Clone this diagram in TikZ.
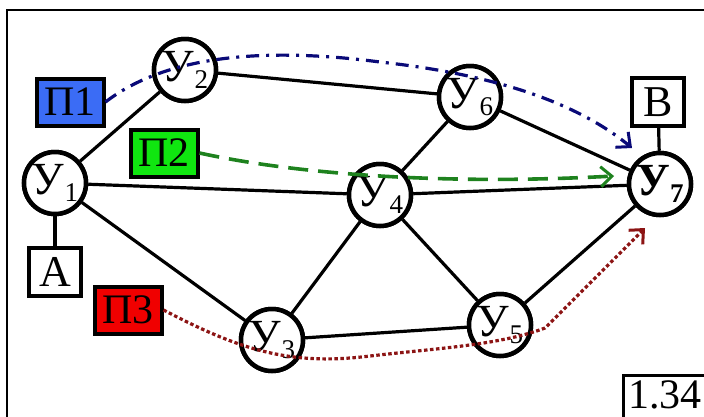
\documentclass[tikz,border=0pt]{standalone}
\usepackage{fontspec}
\setmainfont{Liberation Serif}
\usetikzlibrary{arrows.meta}
\definecolor{pblue}{RGB}{59,108,245}
\definecolor{pgreen}{RGB}{16,230,16}
\definecolor{pred}{RGB}{240,0,0}
\definecolor{lblue}{RGB}{10,10,120}
\definecolor{lgreen}{RGB}{30,130,30}
\definecolor{lred}{RGB}{140,20,20}
\newcommand{\uzl}[1]{У\raisebox{-0.15em}{\fontsize{27}{27}\selectfont #1}}
\begin{document}
\begin{tikzpicture}[x=1pt,y=-1pt,
  uz/.style={circle,draw,line width=4.5pt,minimum size=62pt,inner sep=0pt,fill=white,font=\fontsize{46}{48}\selectfont},
  edge/.style={line width=3.2pt},
  lbox/.style={draw,line width=4pt,minimum width=52pt,minimum height=48pt,inner sep=0pt,fill=white,font=\fontsize{44}{46}\selectfont},
  pbox/.style={draw,line width=4pt,minimum width=67pt,minimum height=47pt,inner sep=0pt,font=\fontsize{42}{44}\selectfont},
  tip/.style={-{Straight Barb[length=11pt,width=20pt,line width=3pt]}}]
\useasboundingbox (0,0) rectangle (704,416);
\begin{scope}
\clip (0,0) rectangle (704,416);
\draw[line width=2.6pt] (7,10) rectangle (730,440);
\node[draw,line width=2.6pt,minimum width=90pt,minimum height=60pt,inner sep=0pt,anchor=north west] (num) at (622,374) {};
\node[anchor=north west,inner sep=0pt,font=\fontsize{42}{44}\selectfont] (numt) at (628,380) {1.34};
\end{scope}
% nodes
\node[uz] (u1) at (55,183) {};
\node[uz] (u2) at (185,70) {};
\node[uz] (u6) at (470,97) {};
\node[uz] (u7) at (660,184) {};
\node[uz] (u4) at (380,195) {};
\node[uz] (u3) at (272,340) {};
\node[uz] (u5) at (500,325) {};
\node[lbox] (a) at (55,272) {};
\node[lbox] (b) at (658,102) {};
% edges
\draw[edge] (u1) -- (u2);
\draw[edge] (u1) -- (u4);
\draw[edge] (u1) -- (u3);
\draw[edge] (u2) -- (u6);
\draw[edge] (u6) -- (u4);
\draw[edge] (u6) -- (u7);
\draw[edge] (u4) -- (u7);
\draw[edge] (u4) -- (u3);
\draw[edge] (u4) -- (u5);
\draw[edge] (u3) -- (u5);
\draw[edge] (u5) -- (u7);
\draw[edge] (u1) -- (a);
\draw[edge] (u7) -- (b);
% circles and boxes on top of edges
\node[uz] at (u1) {\uzl{1}};
\node[uz] at (u2) {\uzl{2}};
\node[uz] at (u6) {\uzl{6}};
\node[uz] at (u7) {\textbf{У\raisebox{-0.15em}{\fontsize{27}{27}\selectfont 7}}};
\node[uz] at (u4) {\uzl{4}};
\node[uz] at (u3) {\uzl{3}};
\node[uz] at (u5) {\uzl{5}};
\node[lbox] at (a) {A};
\node[lbox] at (b) {B};
\node[pbox,fill=pblue] (p1) at (70,102) {П1};
\node[pbox,fill=pgreen] (p2) at (164,153) {П2};
\node[pbox,fill=pred] (p3) at (128,310) {П3};
% routes
\coordinate (e1) at (632,148);
\coordinate (e2) at (614,176);
\coordinate (e3) at (645,228);
\draw[lblue,line width=3.2pt,dash pattern=on 13pt off 7pt on 3pt off 7pt,tip]
  (p1.east) .. controls (160,60) and (250,45) .. (380,62) .. controls (500,75) and (580,105) .. (e1);
\draw[lgreen,line width=3.6pt,dash pattern=on 20pt off 10pt,tip]
  (p2.east) .. controls (300,175) and (450,185) .. (e2);
\draw[lred,line width=3.2pt,dash pattern=on 3.5pt off 2.5pt,tip]
  (p3.east) .. controls (240,350) and (290,366) .. (370,356) .. controls (440,348) and (500,345) .. (545,328) -- (e3);
\end{tikzpicture}
\end{document}
